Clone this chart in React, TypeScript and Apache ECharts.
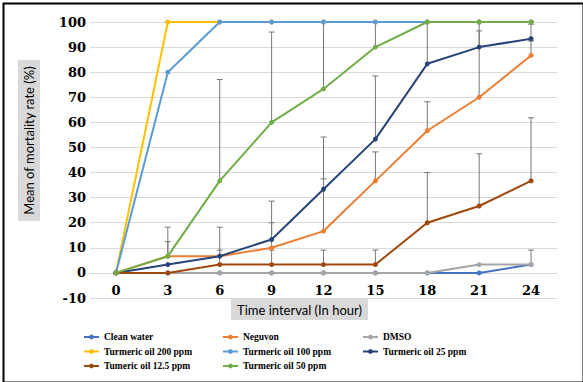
import React, { useEffect, useRef } from "react";
import * as echarts from "echarts";

const timeLabels = ["0", "3", "6", "9", "12", "15", "18", "21", "24"];
const yTicks = { min: -10, max: 100, interval: 10 };

const seriesNames = [
  "Clean water",
  "Neguvon",
  "DMSO",
  "Turmeric oil 200 ppm",
  "Turmeric oil 100 ppm",
  "Turmeric oil 25 ppm",
  "Tumeric oil 12.5 ppm",
  "Turmeric oil 50 ppm",
];
const seriesColors = ["#4472C4", "#ED7D31", "#A5A5A5", "#FFC000", "#5B9BD5", "#264478", "#9E480E", "#70AD47"];

const cleanWater = [0, 0, 0, 0, 0, 0, 0, 0, 3.33];
const neguvon = [0, 6.67, 6.67, 10, 16.67, 36.67, 56.67, 70, 86.67];
const dmso = [0, 0, 0, 0, 0, 0, 0, 3.33, 3.33];
const turmeric200 = [0, 100, 100, 100, 100, 100, 100, 100, 100];
const turmeric100 = [0, 80, 100, 100, 100, 100, 100, 100, 100];
const turmeric25 = [0, 3.33, 6.67, 13.33, 33.33, 53.33, 83.33, 90, 93.33];
const turmeric125 = [0, 0, 3.33, 3.33, 3.33, 3.33, 20, 26.67, 36.67];
const turmeric50 = [0, 6.67, 36.67, 60, 73.33, 90, 100, 100, 100];

// positive error bars (standard deviation), null = none shown
const errCleanWater = [null, null, null, null, null, null, null, null, null];
const errNeguvon = [null, 5.77, 11.55, 10, 20.82, 11.55, 11.55, 26.46, 5.77];
const errDmso = [null, null, null, null, null, null, null, null, 5.77];
const err200 = [null, 0, 0, 0, 0, 0, 0, 0, 0];
const err100 = [null, null, 0, 0, 0, 0, 0, 0, 0];
const err25 = [null, null, null, 15.28, 20.82, 25.17, 16.67, 10, 5.77];
const err125 = [null, null, 5.77, 5.77, 5.77, 5.77, 20, 20.82, 25.17];
const err50 = [null, 11.55, 40.41, 36, 26.67, 10, 0, 0, 0];

const allValues = [cleanWater, neguvon, dmso, turmeric200, turmeric100, turmeric25, turmeric125, turmeric50];
const allErrors = [errCleanWater, errNeguvon, errDmso, err200, err100, err25, err125, err50];

const legendColumns = [
  ["Clean water", "Turmeric oil 200 ppm", "Tumeric oil 12.5 ppm"],
  ["Neguvon", "Turmeric oil 100 ppm", "Turmeric oil 50 ppm"],
  ["DMSO", "Turmeric oil 25 ppm"],
];

export default function App() {
  const ref = useRef<HTMLDivElement>(null);
  useEffect(() => {
    if (!ref.current) return;
    const chart = echarts.init(ref.current, null, { renderer: "svg" });

    const errData: number[][] = [];
    allValues.forEach((vals, si) => {
      allErrors[si].forEach((e, i) => {
        if (e === null || e === undefined) return;
        errData.push([i, vals[i], Math.min(yTicks.max, vals[i] + (e as number))]);
      });
    });

    const lineSeries = allValues.map((vals, si) => ({
      name: seriesNames[si],
      type: "line",
      data: vals,
      z: 3,
      symbol: "circle",
      symbolSize: 5,
      showSymbol: true,
      lineStyle: { width: 2, color: seriesColors[si] },
      itemStyle: { color: seriesColors[si] },
    }));

    const legendFont = {
      fontFamily: "Liberation Serif",
      fontWeight: "bold",
      fontSize: 9.5,
      color: "#000",
      lineHeight: 12,
    };
    const legendLefts = [83, 222, 362];

    const option: any = {
      animation: false,
      backgroundColor: "#fff",
      grid: { left: 90, right: 26, top: 22, bottom: 84, containLabel: false },
      xAxis: {
        type: "category",
        data: timeLabels,
        boundaryGap: true,
        offset: -25,
        axisLine: { show: true, onZero: false, lineStyle: { color: "#d9d9d9", width: 1 } },
        axisTick: { show: false },
        axisLabel: {
          margin: 11,
          fontFamily: "DejaVu Serif",
          fontWeight: "bold",
          fontSize: 13,
          color: "#000",
        },
        splitLine: { show: false },
      },
      yAxis: {
        type: "value",
        min: yTicks.min,
        max: yTicks.max,
        interval: yTicks.interval,
        axisLine: { show: false },
        axisTick: { show: false },
        axisLabel: {
          margin: 4,
          fontFamily: "DejaVu Serif",
          fontWeight: "bold",
          fontSize: 13,
          color: "#000",
        },
        splitLine: { show: true, lineStyle: { color: "#d9d9d9", width: 1 } },
      },
      legend: legendColumns.map((col, ci) => ({
        data: col,
        orient: "vertical",
        left: legendLefts[ci],
        top: 331,
        padding: 0,
        itemGap: 2.5,
        itemWidth: 15,
        itemHeight: 6,
        textStyle: legendFont,
        selectedMode: false,
      })),
      series: [
        {
          name: "errors",
          type: "custom",
          z: 1,
          data: errData,
          encode: { x: 0, y: [1, 2] },
          renderItem: (params: any, api: any) => {
            const x = api.value(0);
            const p1 = api.coord([x, api.value(1)]);
            const p2 = api.coord([x, api.value(2)]);
            const hw = 3;
            const style = { stroke: "#777777", lineWidth: 1 };
            return {
              type: "group",
              children: [
                { type: "line", shape: { x1: p1[0], y1: p1[1], x2: p2[0], y2: p2[1] }, style },
                { type: "line", shape: { x1: p2[0] - hw, y1: p2[1], x2: p2[0] + hw, y2: p2[1] }, style },
              ],
            };
          },
        },
        ...lineSeries,
      ],
      graphic: [
        {
          type: "rect",
          left: 1,
          top: 1,
          shape: { x: 0, y: 0, width: 580, height: 379 },
          style: { fill: "none", stroke: "#000", lineWidth: 2 },
          z: 100,
        },
        {
          type: "rect",
          shape: { x: 18, y: 60, width: 22, height: 161 },
          style: { fill: "#d9d9d9" },
          z: 50,
        },
        {
          type: "text",
          x: 29,
          y: 140.5,
          rotation: Math.PI / 2,
          style: {
            text: "Mean of mortality rate (%)",
            fontFamily: "Lato",
            fontSize: 13,
            fill: "#000",
            align: "center",
            verticalAlign: "middle",
          },
          z: 51,
        },
        {
          type: "rect",
          shape: { x: 231, y: 299, width: 137, height: 21 },
          style: { fill: "#d9d9d9" },
          z: 50,
        },
        {
          type: "text",
          x: 299.5,
          y: 309.5,
          style: {
            text: "Time interval (In hour)",
            fontFamily: "Lato",
            fontSize: 13,
            fill: "#000",
            align: "center",
            verticalAlign: "middle",
          },
          z: 51,
        },
      ],
    };
    chart.setOption(option);
    return () => chart.dispose();
  }, []);
  return (
    <div
      ref={ref}
      style={{ position: "fixed", left: 0, top: 0, width: 583, height: 382, background: "#fff" }}
    />
  );
}
